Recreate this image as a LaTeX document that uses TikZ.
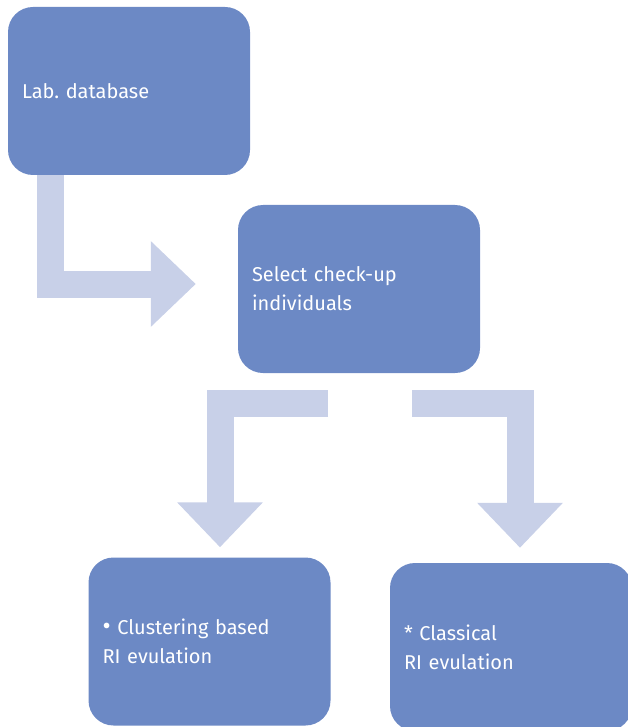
\documentclass[tikz,border=0pt]{standalone}
\usepackage{fontspec}
\setmainfont{Fira Sans}
\usetikzlibrary{arrows.meta,calc}
\definecolor{boxblue}{RGB}{108,137,197}
\definecolor{arrowblue}{RGB}{200,208,232}
\frenchspacing

\begin{document}
\begin{tikzpicture}[x=1pt,y=-1pt,
	stepbox/.style={fill=boxblue, rounded corners=25pt, minimum width=242pt, minimum height=168pt,
		text width=214pt, inner xsep=14pt, align=left, text=white, font=\fontsize{20}{29}\selectfont},
	bigarrow/.style={draw=arrowblue, line width=27pt, -{Triangle[length=45pt,width=83pt]}}]
	\useasboundingbox (0,0) rectangle (627,727);
	
	\node[stepbox] (db) at (129,91) {Lab. database};
	\node[stepbox] (sel) at (359,289) {Select check-up\\individuals};
	\node[stepbox] (clu) at (209.5,641.5) {{\fontsize{25}{29}\selectfont\textbullet} Clustering based\\RI evulation};
	\node[stepbox] (cla) at (511,647) {* Classical\\RI evulation};
	
	\draw[bigarrow] ($(db.south west)+(42.5,0)$) |- ($(sel.west)+(-42,-5)$);
	\draw[bigarrow] ($(sel.south)+(-31,30.5)$) -| ($(clu.north)+(10.5,-10)$);
	\draw[bigarrow] ($(sel.south)+(53,30.5)$) -| ($(cla.north)+(9,-15)$);
\end{tikzpicture}
\end{document}
